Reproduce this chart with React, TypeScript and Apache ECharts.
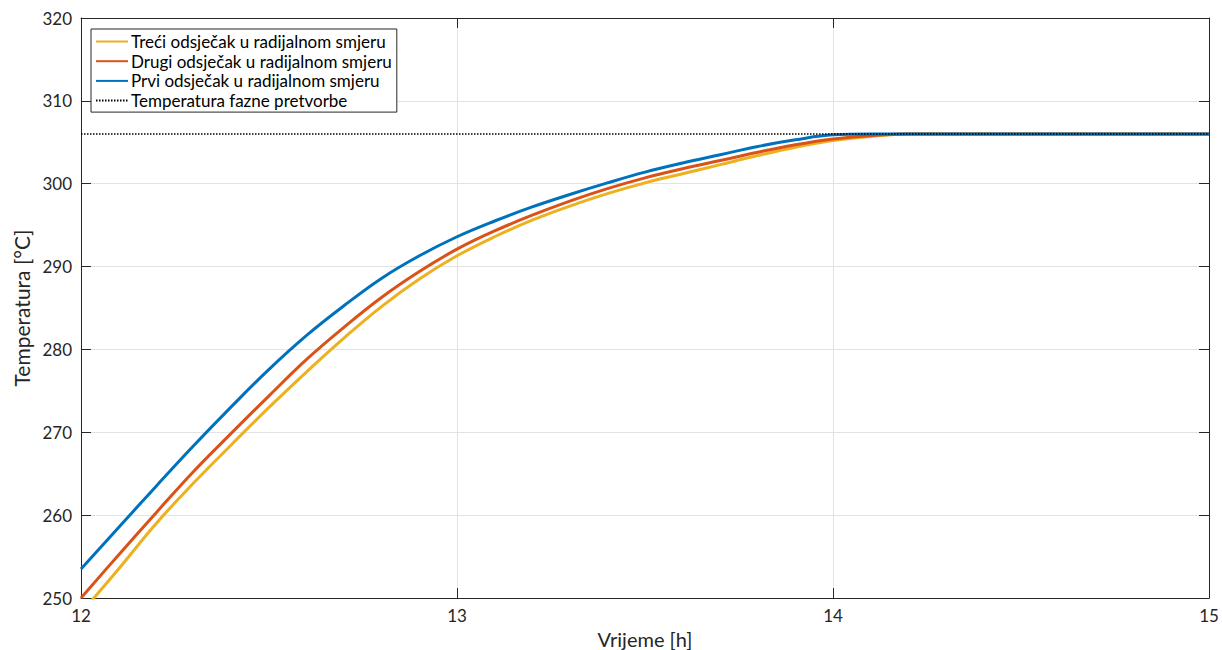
import React, { useEffect, useRef } from "react";
import * as echarts from "echarts";

const TIME = [12.0, 12.1, 12.2, 12.3, 12.4, 12.5, 12.6, 12.7, 12.8, 12.9, 13.0, 13.1, 13.2, 13.3, 13.4, 13.5, 13.6, 13.7, 13.8, 13.9, 14.0, 14.1, 14.2, 14.3, 14.4, 14.5, 14.6, 14.7, 14.8, 14.9, 15.0];
const PRVI = [253.5, 258.5, 263.5, 268.4, 273.1, 277.6, 281.7, 285.3, 288.6, 291.3, 293.6, 295.5, 297.2, 298.7, 300.1, 301.4, 302.5, 303.5, 304.5, 305.3, 305.9, 306.0, 306.0, 306.0, 306.0, 306.0, 306.0, 306.0, 306.0, 306.0, 306.0];
const DRUGI = [250.0, 255.2, 260.3, 265.3, 269.9, 274.4, 278.8, 282.7, 286.3, 289.4, 292.1, 294.3, 296.2, 297.9, 299.4, 300.7, 301.8, 302.8, 303.8, 304.7, 305.4, 305.8, 306.0, 306.0, 306.0, 306.0, 306.0, 306.0, 306.0, 306.0, 306.0];
const TRECI = [248.2, 253.5, 259.0, 263.9, 268.5, 273.0, 277.3, 281.4, 285.2, 288.5, 291.3, 293.6, 295.6, 297.3, 298.8, 300.1, 301.2, 302.3, 303.4, 304.4, 305.2, 305.7, 306.0, 306.0, 306.0, 306.0, 306.0, 306.0, 306.0, 306.0, 306.0];
const PHASE_T = [12, 15];
const PHASE_V = [306, 306];

const NAMES = [
  "Treći odsječak u radijalnom smjeru",
  "Drugi odsječak u radijalnom smjeru",
  "Prvi odsječak u radijalnom smjeru",
  "Temperatura fazne pretvorbe",
];
const X_TICKS = [12, 13, 14, 15];

const FONT = "Lato";
const AX = "#262626";

function pairs(xs: number[], ys: number[]) {
  return xs.map((x, i) => [x, ys[i]]);
}

export default function App() {
  const ref = useRef<HTMLDivElement>(null);
  useEffect(() => {
    if (!ref.current) return;
    const chart = echarts.init(ref.current, undefined, { renderer: "svg" });
    const lineSeries = (name: string, ys: number[], color: string) => ({
      name,
      type: "line",
      data: pairs(TIME, ys),
      symbol: "none",
      smooth: 0.4,
      clip: true,
      lineStyle: { color, width: 3 },
      itemStyle: { color },
    });
    chart.setOption({
      animation: false,
      backgroundColor: "#ffffff",
      textStyle: { fontFamily: FONT },
      grid: { left: 81, right: 13, top: 18, bottom: 52, containLabel: false, outerBoundsMode: "none" },
      legend: {
        orient: "vertical",
        left: 91,
        top: 29,
        data: NAMES,
        itemWidth: 32,
        itemHeight: 17,
        itemGap: 2.7,
        padding: [4, 5, 3, 4],
        backgroundColor: "#ffffff",
        borderColor: AX,
        borderWidth: 1,
        borderRadius: 0,
        itemStyle: { opacity: 0, borderWidth: 0 },
        textStyle: { fontFamily: FONT, fontSize: 17, color: "#000000", padding: [0, 0, 0, -2] },
      },
      xAxis: [
        {
          type: "value",
          min: 12,
          max: 15,
          interval: 1,
          name: "Vrijeme [h]",
          nameLocation: "middle",
          nameGap: 28,
          nameTextStyle: { fontFamily: FONT, fontSize: 20, color: AX },
          axisLine: { show: true, onZero: false, lineStyle: { color: AX, width: 1 } },
          axisTick: { show: true, inside: true, length: 10, lineStyle: { color: AX } },
          axisLabel: {
            fontFamily: FONT,
            fontSize: 17,
            color: AX,
            margin: 9,
            formatter: (v: number) => (X_TICKS.includes(v) ? String(v) : ""),
          },
          splitLine: { show: true, lineStyle: { color: "#e3e3e3", width: 1 } },
        },
        {
          type: "value",
          position: "top",
          min: 12,
          max: 15,
          interval: 1,
          axisLine: { show: true, onZero: false, lineStyle: { color: AX, width: 1 } },
          axisTick: { show: true, inside: true, length: 10, lineStyle: { color: AX } },
          axisLabel: { show: false },
          splitLine: { show: false },
        },
      ],
      yAxis: [
        {
          type: "value",
          min: 250,
          max: 320,
          interval: 10,
          name: "Temperatura [°C]",
          nameLocation: "middle",
          nameGap: 48,
          nameTextStyle: { fontFamily: FONT, fontSize: 21, color: AX },
          axisLine: { show: true, onZero: false, lineStyle: { color: AX, width: 1 } },
          axisTick: { show: true, inside: true, length: 10, lineStyle: { color: AX } },
          axisLabel: { fontFamily: FONT, fontSize: 17, color: AX, margin: 9 },
          splitLine: { show: true, lineStyle: { color: "#e3e3e3", width: 1 } },
        },
        {
          type: "value",
          position: "right",
          min: 250,
          max: 320,
          interval: 10,
          axisLine: { show: true, onZero: false, lineStyle: { color: AX, width: 1 } },
          axisTick: { show: true, inside: true, length: 10, lineStyle: { color: AX } },
          axisLabel: { show: false },
          splitLine: { show: false },
        },
      ],
      series: [
        lineSeries(NAMES[0], TRECI, "#EDB120"),
        lineSeries(NAMES[1], DRUGI, "#D95319"),
        lineSeries(NAMES[2], PRVI, "#0072BD"),
        {
          name: NAMES[3],
          type: "line",
          data: pairs(PHASE_T, PHASE_V),
          symbol: "none",
          lineStyle: { color: "#000000", width: 1.5, type: [1.5, 1.5] },
          itemStyle: { color: "#000000" },
        },
      ],
    });
    return () => chart.dispose();
  }, []);
  return (
    <div
      ref={ref}
      style={{ position: "fixed", left: 0, top: 0, width: 1222, height: 650, background: "#fff" }}
    />
  );
}
